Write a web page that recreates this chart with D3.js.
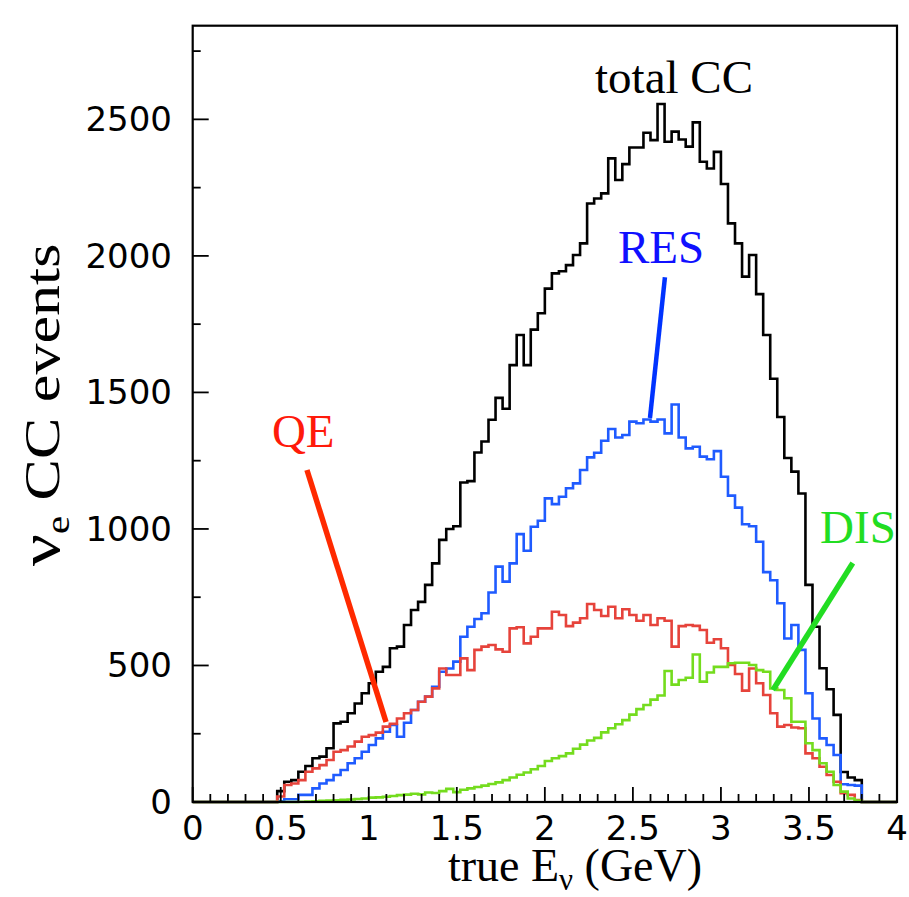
<!DOCTYPE html>
<html><head><meta charset="utf-8">
<script src="https://cdn.jsdelivr.net/npm/d3@7"></script>
<style>html,body{margin:0;padding:0;background:#fff;}svg{display:block;}</style>
</head><body>
<svg id="chart" width="909" height="897"></svg>
<script>
// lower edges of the 0.04 GeV bins (GeV)
const binLow = [0.48,0.52,0.56,0.60,0.64,0.68,0.72,0.76,0.80,0.84,0.88,0.92,0.96,1.00,1.04,1.08,1.12,1.16,1.20,1.24,1.28,1.32,1.36,1.40,1.44,1.48,1.52,1.56,1.60,1.64,1.68,1.72,1.76,1.80,1.84,1.88,1.92,1.96,2.00,2.04,2.08,2.12,2.16,2.20,2.24,2.28,2.32,2.36,2.40,2.44,2.48,2.52,2.56,2.60,2.64,2.68,2.72,2.76,2.80,2.84,2.88,2.92,2.96,3.00,3.04,3.08,3.12,3.16,3.20,3.24,3.28,3.32,3.36,3.40,3.44,3.48,3.52,3.56,3.60,3.64,3.68,3.72,3.76];
const binWidth = 0.04;
const totalCC = [40,74,80,111,132,160,166,197,288,294,325,361,398,435,477,495,563,569,648,703,733,795,874,960,1000,1010,1170,1175,1280,1320,1400,1480,1440,1600,1710,1600,1730,1790,1880,1936,1944,1966,2003,2046,2192,2210,2229,2357,2278,2336,2397,2397,2451,2424,2556,2418,2455,2426,2400,2489,2345,2320,2381,2263,2119,2046,1924,2003,1860,1710,1550,1410,1260,1210,1130,795,642,490,413,319,110,90,80];
const qe = [20,62,68,80,111,123,135,154,184,190,203,221,239,245,254,276,286,306,325,337,367,386,416,489,465,465,526,483,557,569,575,559,550,636,640,581,605,636,636,697,685,644,657,673,725,703,681,715,673,706,685,664,685,648,673,664,569,644,648,645,630,583,596,563,502,469,408,489,435,392,325,276,282,273,270,178,160,129,99,74,32,26,7];
const res = [3,10,10,26,26,50,68,80,99,117,142,160,184,209,233,257,282,239,290,337,367,386,422,477,489,514,605,642,670,691,767,862,807,874,981,920,1008,1030,1112,1091,1118,1149,1167,1216,1262,1279,1323,1366,1335,1344,1393,1387,1401,1393,1401,1350,1456,1335,1295,1301,1265,1255,1285,1191,1122,1078,1017,1010,953,842,812,728,599,648,557,398,306,233,209,172,65,62,60];
const dis = [0,0,0,1,2,3,4,5,6,8,9,11,13,16,17,19,22,25,27,30,28,35,33,40,48,36,45,50,55,60,66,72,80,90,100,108,120,132,150,160,168,178,195,210,225,235,255,270,285,300,320,340,355,375,390,480,430,447,455,540,441,474,495,495,508,510,510,502,483,477,416,410,380,294,294,215,190,142,111,62,38,13,5];

const xMajorTicks = [0,0.5,1,1.5,2,2.5,3,3.5,4];
const xTickLabels = ["0","0.5","1","1.5","2","2.5","3","3.5","4"];
const xMinorTicks = [0.1,0.2,0.3,0.4,0.6,0.7,0.8,0.9,1.1,1.2,1.3,1.4,1.6,1.7,1.8,1.9,2.1,2.2,2.3,2.4,2.6,2.7,2.8,2.9,3.1,3.2,3.3,3.4,3.6,3.7,3.8,3.9];
const yMajorTicks = [0,500,1000,1500,2000,2500];
const yTickLabels = ["0","500","1000","1500","2000","2500"];
const yMinorTicks = [250,750,1250,1750,2250,2750];

const seriesNames = ["total CC","QE","RES","DIS"];
// annotation anchors in data units [E, events]
const labelPos = {"total CC":[2.285,2596],"RES":[2.415,1974],"QE":[0.45,1300],"DIS":[3.563,948]};
const pointers = {"RES":[[2.682,1922],[2.597,1406]],"QE":[[0.649,1216],[1.098,293]],"DIS":[[3.749,875],[3.295,410]]};

const svg = d3.select("#chart");
const x = d3.scaleLinear().domain([0,4]).range([192.7,897]);
const y = d3.scaleLinear().domain([0,2843]).range([802,25.7]);

function stepPoints(vals){
  const pts = [[0,0]];
  vals.forEach((v,i)=>pts.push([binLow[i],v]));
  const end = binLow[binLow.length-1]+binWidth;
  pts.push([end,0]); pts.push([4,0]);
  return pts;
}
const line = d3.line().x(d=>x(d[0])).y(d=>y(d[1])).curve(d3.curveStepAfter);

const series = [
  {name:"total CC", vals: totalCC, color:"#000000"},
  {name:"RES", vals: res, color:"#1f5bff"},
  {name:"QE", vals: qe, color:"#e6433b"},
  {name:"DIS", vals: dis, color:"#74dc1e"}
];
series.forEach(s=>{
  svg.append("path").attr("d", line(stepPoints(s.vals)))
    .attr("fill","none").attr("stroke", s.color).attr("stroke-width",2.6)
    .attr("stroke-linejoin","miter");
});

// frame
svg.append("rect").attr("x",x(0)).attr("y",y(2843)).attr("width",x(4)-x(0)).attr("height",y(0)-y(2843))
  .attr("fill","none").attr("stroke","#000").attr("stroke-width",2.2);

// ticks
const tk = svg.append("g").attr("stroke","#000").attr("stroke-width",1.8);
xMajorTicks.forEach(t=>tk.append("line").attr("x1",x(t)).attr("x2",x(t)).attr("y1",y(0)).attr("y2",y(0)-15));
xMinorTicks.forEach(t=>tk.append("line").attr("x1",x(t)).attr("x2",x(t)).attr("y1",y(0)).attr("y2",y(0)-8));
yMajorTicks.forEach(t=>tk.append("line").attr("x1",x(0)).attr("x2",x(0)+16).attr("y1",y(t)).attr("y2",y(t)));
yMinorTicks.forEach(t=>tk.append("line").attr("x1",x(0)).attr("x2",x(0)+8).attr("y1",y(t)).attr("y2",y(t)));

// tick labels
const tickFont = "'DejaVu Sans', sans-serif";
xMajorTicks.forEach((t,i)=>svg.append("text").attr("x",x(t)).attr("y",840)
  .attr("text-anchor","middle").attr("font-family",tickFont).attr("font-size",34).text(xTickLabels[i]));
yMajorTicks.forEach((t,i)=>svg.append("text").attr("x",172).attr("y",y(t)+12)
  .attr("text-anchor","end").attr("font-family",tickFont).attr("font-size",34).text(yTickLabels[i]));

const serif = "'Liberation Serif','Times New Roman',serif";
// x title
const xt = svg.append("text").attr("x",575).attr("y",881).attr("text-anchor","middle")
  .attr("font-family",serif).attr("font-size",46);
xt.append("tspan").text("true E");
xt.append("tspan").attr("font-size",31).attr("dy",9).text("ν");
xt.append("tspan").attr("dy",-9).text(" (GeV)");
// y title (glyphs drawn elongated along the text direction, as in the reference)
const yt = svg.append("text").attr("transform","translate(59,405) rotate(-90) scale(1.32,1.06)").attr("text-anchor","middle")
  .attr("font-family",serif).attr("font-size",47);
yt.append("tspan").attr("font-size",54).text("ν");
yt.append("tspan").attr("font-size",31).attr("dy",9).text("e");
yt.append("tspan").attr("dy",-9).text(" CC events");

// pointers
const ptrColor = {"RES":"#0033ff","QE":"#ff2a00","DIS":"#22dd22"};
const ptrWidth = {"RES":4.5,"QE":5.5,"DIS":5.5};
Object.keys(pointers).forEach(k=>{
  const p = pointers[k];
  svg.append("line").attr("x1",x(p[0][0])).attr("y1",y(p[0][1])).attr("x2",x(p[1][0])).attr("y2",y(p[1][1]))
    .attr("stroke",ptrColor[k]).attr("stroke-width",ptrWidth[k]);
});
// labels
const labColor = {"total CC":"#000000","RES":"#1010ff","QE":"#ff1a0a","DIS":"#22dd22"};
seriesNames.forEach(n=>{
  svg.append("text").attr("x",x(labelPos[n][0])).attr("y",y(labelPos[n][1]))
    .attr("font-family",serif).attr("font-size",47).attr("fill",labColor[n]).text(n);
});
</script>
</body></html>
